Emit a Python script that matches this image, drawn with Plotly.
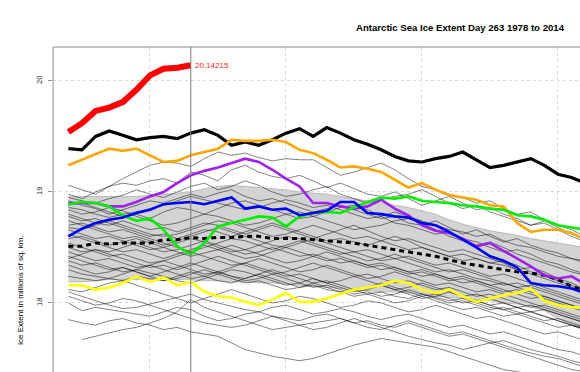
import plotly.graph_objects as go

days = list(range(254, 293))

# highlighted years
red_2014 = [19.54, 19.62, 19.73, 19.76, 19.81, 19.92, 20.05, 20.11, 20.12, 20.14215]
black_thick = [19.39, 19.38, 19.50, 19.55, 19.51, 19.47, 19.49, 19.50, 19.48, 19.53, 19.56, 19.51, 19.42, 19.45, 19.42, 19.47, 19.53,
               19.57, 19.50, 19.58, 19.53, 19.47, 19.43, 19.38, 19.32, 19.28, 19.27, 19.30, 19.32, 19.36, 19.29, 19.22, 19.24, 19.27, 19.30, 19.24, 19.16, 19.13, 19.08]
orange = [19.24, 19.29, 19.34, 19.39, 19.37, 19.39, 19.33, 19.27, 19.28, 19.33, 19.36, 19.39, 19.47, 19.46, 19.46, 19.47, 19.45, 19.38, 19.35, 19.29,
          19.22, 19.23, 19.21, 19.18, 19.11, 19.04, 19.08, 19.02, 18.97, 18.95, 18.93, 18.88, 18.87, 18.72, 18.64, 18.66, 18.66, 18.63, 18.57]
purple = [18.90, 18.90, 18.90, 18.87, 18.87, 18.91, 18.96, 19.00, 19.08, 19.15, 19.19, 19.22, 19.26, 19.30, 19.27, 19.20, 19.12, 19.05, 18.90, 18.90,
          18.87, 18.85, 18.87, 18.93, 18.85, 18.79, 18.70, 18.65, 18.63, 18.58, 18.51, 18.54, 18.47, 18.40, 18.33, 18.25, 18.22, 18.24, 18.17]
green = [18.89, 18.91, 18.90, 18.87, 18.79, 18.74, 18.76, 18.66, 18.51, 18.44, 18.54, 18.69, 18.72, 18.75, 18.78, 18.77, 18.69, 18.78, 18.81, 18.82,
         18.81, 18.86, 18.91, 18.95, 18.94, 18.96, 18.92, 18.91, 18.90, 18.88, 18.87, 18.85, 18.84, 18.79, 18.78, 18.75, 18.70, 18.68, 18.66]
blue = [18.60, 18.67, 18.72, 18.75, 18.77, 18.81, 18.84, 18.89, 18.90, 18.91, 18.89, 18.92, 18.95, 18.85, 18.87, 18.84, 18.85, 18.79, 18.81, 18.83,
        18.91, 18.91, 18.81, 18.80, 18.78, 18.77, 18.72, 18.70, 18.64, 18.57, 18.50, 18.42, 18.38, 18.32, 18.18, 18.16, 18.15, 18.13, 18.09]
yellow = [18.16, 18.16, 18.12, 18.14, 18.18, 18.24, 18.19, 18.23, 18.16, 18.19, 18.10, 18.06, 18.05, 18.01, 17.98, 18.03, 18.09, 18.01, 18.01, 18.04,
          18.08, 18.12, 18.14, 18.16, 18.20, 18.18, 18.12, 18.09, 18.12, 18.06, 18.01, 18.04, 18.07, 18.09, 18.13, 18.02, 17.98, 17.96, 17.96]

mean_line = [18.51, 18.51, 18.54, 18.53, 18.54, 18.54, 18.54, 18.57, 18.57, 18.59, 18.58, 18.59, 18.59, 18.60, 18.60, 18.58, 18.58, 18.58, 18.57, 18.56,
             18.55, 18.54, 18.52, 18.50, 18.48, 18.46, 18.44, 18.42, 18.39, 18.36, 18.34, 18.32, 18.30, 18.28, 18.27, 18.25, 18.21, 18.15, 18.11]
band_upper = [18.96, 18.96, 18.96, 18.96, 18.96, 18.96, 18.97, 18.98, 18.99, 19.00, 19.03, 19.05, 19.06, 19.05, 19.04, 19.03, 19.02, 19.00, 18.99, 18.98,
              18.96, 18.94, 18.92, 18.90, 18.88, 18.86, 18.83, 18.80, 18.75, 18.71, 18.68, 18.65, 18.63, 18.61, 18.58, 18.56, 18.54, 18.52, 18.50]
band_lower = [18.19, 18.19, 18.20, 18.21, 18.21, 18.21, 18.21, 18.22, 18.21, 18.21, 18.20, 18.20, 18.19, 18.19, 18.18, 18.18, 18.17, 18.16, 18.15, 18.14,
              18.13, 18.12, 18.11, 18.10, 18.10, 18.09, 18.08, 18.06, 18.05, 18.04, 18.03, 18.02, 18.00, 17.99, 17.97, 17.93, 17.86, 17.80, 17.75]

thin_years = [
    [19.06, 19.02, 18.98, 19.05, 19.12, 19.18, 19.24, 19.27, 19.26, 19.23, 19.30, 19.36, 19.33, 19.35, 19.31, 19.28, 19.30, 19.29, 19.29, 19.22, 19.15, 19.18, 19.22, 19.26, 19.20, 19.12, 19.05, 19.02, 18.98, 18.95, 18.90, 18.92, 18.85, 18.80, 18.82, 18.75, 18.70, 18.66, 18.60],
    [18.98, 18.94, 19.00, 19.05, 19.08, 19.06, 19.10, 19.12, 19.08, 19.18, 19.15, 19.10, 19.20, 19.24, 19.18, 19.14, 19.12, 19.15, 19.10, 19.04, 19.08, 19.03, 18.98, 18.96, 19.00, 18.94, 18.88, 18.92, 18.96, 18.90, 18.84, 18.86, 18.80, 18.76, 18.70, 18.74, 18.68, 18.62, 18.58],
    [18.95, 18.92, 18.90, 18.94, 18.97, 19.02, 18.98, 18.95, 19.00, 19.05, 19.08, 19.02, 19.05, 19.10, 19.06, 19.00, 18.96, 18.98, 19.02, 19.05, 18.98, 18.94, 18.90, 18.93, 18.96, 18.98, 19.02, 18.96, 18.90, 18.85, 18.88, 18.82, 18.78, 18.74, 18.70, 18.72, 18.66, 18.60, 18.55],
    [18.92, 18.88, 18.85, 18.80, 18.84, 18.88, 18.92, 18.90, 18.94, 18.98, 18.95, 18.99, 19.02, 18.96, 18.92, 18.94, 18.90, 18.86, 18.82, 18.85, 18.88, 18.84, 18.80, 18.76, 18.78, 18.72, 18.70, 18.74, 18.68, 18.62, 18.66, 18.60, 18.55, 18.58, 18.52, 18.48, 18.45, 18.40, 18.38],
    [18.88, 18.90, 18.86, 18.82, 18.78, 18.80, 18.76, 18.82, 18.86, 18.84, 18.80, 18.85, 18.90, 18.92, 18.88, 18.84, 18.80, 18.76, 18.78, 18.82, 18.86, 18.88, 18.84, 18.78, 18.72, 18.70, 18.66, 18.62, 18.64, 18.58, 18.55, 18.50, 18.46, 18.48, 18.44, 18.38, 18.35, 18.30, 18.26],
    [18.84, 18.80, 18.82, 18.86, 18.83, 18.78, 18.74, 18.70, 18.72, 18.76, 18.80, 18.78, 18.74, 18.70, 18.72, 18.76, 18.80, 18.82, 18.78, 18.74, 18.70, 18.66, 18.68, 18.70, 18.74, 18.76, 18.72, 18.66, 18.60, 18.56, 18.52, 18.55, 18.50, 18.44, 18.40, 18.36, 18.32, 18.28, 18.25],
    [18.80, 18.76, 18.72, 18.70, 18.74, 18.70, 18.66, 18.68, 18.64, 18.68, 18.72, 18.70, 18.66, 18.62, 18.66, 18.70, 18.66, 18.62, 18.58, 18.62, 18.66, 18.70, 18.65, 18.60, 18.56, 18.58, 18.54, 18.50, 18.46, 18.48, 18.44, 18.40, 18.36, 18.30, 18.32, 18.28, 18.22, 18.18, 18.12],
    [18.78, 18.74, 18.76, 18.72, 18.68, 18.64, 18.60, 18.62, 18.58, 18.62, 18.66, 18.64, 18.60, 18.64, 18.68, 18.72, 18.68, 18.64, 18.60, 18.56, 18.58, 18.55, 18.52, 18.56, 18.60, 18.56, 18.50, 18.46, 18.42, 18.44, 18.40, 18.36, 18.38, 18.34, 18.28, 18.24, 18.20, 18.16, 18.10],
    [18.74, 18.70, 18.66, 18.62, 18.58, 18.60, 18.56, 18.52, 18.56, 18.60, 18.64, 18.68, 18.64, 18.60, 18.56, 18.52, 18.50, 18.54, 18.58, 18.54, 18.50, 18.46, 18.48, 18.44, 18.40, 18.42, 18.38, 18.34, 18.36, 18.32, 18.28, 18.24, 18.26, 18.22, 18.18, 18.14, 18.10, 18.06, 18.02],
    [18.70, 18.72, 18.68, 18.64, 18.66, 18.62, 18.58, 18.54, 18.50, 18.46, 18.50, 18.54, 18.58, 18.56, 18.52, 18.48, 18.52, 18.56, 18.52, 18.48, 18.44, 18.46, 18.42, 18.38, 18.40, 18.36, 18.32, 18.28, 18.30, 18.26, 18.22, 18.20, 18.16, 18.18, 18.14, 18.10, 18.06, 18.02, 17.98],
    [18.66, 18.62, 18.58, 18.60, 18.56, 18.52, 18.48, 18.50, 18.54, 18.58, 18.55, 18.50, 18.46, 18.48, 18.52, 18.56, 18.60, 18.58, 18.54, 18.50, 18.46, 18.42, 18.38, 18.40, 18.44, 18.40, 18.36, 18.32, 18.28, 18.30, 18.26, 18.22, 18.18, 18.14, 18.16, 18.12, 18.08, 18.04, 18.00],
    [18.62, 18.58, 18.54, 18.50, 18.46, 18.48, 18.44, 18.40, 18.44, 18.48, 18.52, 18.48, 18.44, 18.40, 18.42, 18.46, 18.50, 18.46, 18.42, 18.38, 18.40, 18.36, 18.32, 18.34, 18.30, 18.26, 18.28, 18.24, 18.20, 18.22, 18.18, 18.14, 18.10, 18.12, 18.08, 18.04, 18.00, 17.96, 17.92],
    [18.58, 18.60, 18.56, 18.52, 18.55, 18.58, 18.54, 18.50, 18.46, 18.42, 18.45, 18.48, 18.52, 18.48, 18.44, 18.40, 18.36, 18.38, 18.42, 18.46, 18.42, 18.38, 18.34, 18.30, 18.32, 18.28, 18.24, 18.26, 18.22, 18.18, 18.20, 18.16, 18.12, 18.08, 18.04, 18.06, 18.02, 17.98, 17.94],
    [18.54, 18.50, 18.46, 18.42, 18.44, 18.40, 18.36, 18.38, 18.42, 18.46, 18.42, 18.38, 18.34, 18.36, 18.40, 18.36, 18.32, 18.28, 18.30, 18.34, 18.30, 18.26, 18.22, 18.24, 18.28, 18.24, 18.20, 18.16, 18.18, 18.14, 18.10, 18.12, 18.08, 18.04, 18.00, 17.96, 17.92, 17.88, 17.84],
    [18.50, 18.46, 18.48, 18.44, 18.40, 18.36, 18.32, 18.34, 18.30, 18.34, 18.38, 18.42, 18.38, 18.34, 18.30, 18.26, 18.28, 18.32, 18.36, 18.32, 18.28, 18.24, 18.26, 18.22, 18.18, 18.20, 18.16, 18.12, 18.14, 18.10, 18.06, 18.08, 18.04, 18.00, 17.96, 17.98, 17.94, 17.90, 17.86],
    [18.46, 18.42, 18.38, 18.40, 18.36, 18.32, 18.34, 18.38, 18.34, 18.30, 18.26, 18.28, 18.32, 18.36, 18.32, 18.28, 18.24, 18.26, 18.22, 18.18, 18.20, 18.24, 18.20, 18.16, 18.12, 18.14, 18.18, 18.14, 18.10, 18.06, 18.08, 18.04, 18.00, 17.96, 17.98, 17.94, 17.90, 17.86, 17.82],
    [18.42, 18.38, 18.34, 18.30, 18.32, 18.28, 18.24, 18.28, 18.32, 18.36, 18.32, 18.28, 18.24, 18.22, 18.26, 18.30, 18.26, 18.22, 18.18, 18.20, 18.16, 18.12, 18.14, 18.18, 18.14, 18.10, 18.06, 18.08, 18.04, 18.00, 18.02, 17.98, 17.94, 17.90, 17.92, 17.88, 17.84, 17.80, 17.76],
    [18.38, 18.34, 18.36, 18.32, 18.28, 18.30, 18.34, 18.30, 18.26, 18.22, 18.24, 18.28, 18.24, 18.20, 18.22, 18.26, 18.22, 18.18, 18.14, 18.16, 18.12, 18.08, 18.10, 18.06, 18.08, 18.12, 18.08, 18.04, 18.00, 18.02, 17.98, 17.94, 17.96, 17.92, 17.88, 17.84, 17.86, 17.82, 17.78],
    [18.34, 18.30, 18.26, 18.28, 18.32, 18.28, 18.24, 18.20, 18.22, 18.26, 18.30, 18.26, 18.22, 18.18, 18.20, 18.16, 18.12, 18.14, 18.18, 18.14, 18.10, 18.06, 18.08, 18.04, 18.00, 18.02, 18.06, 18.02, 17.98, 17.94, 17.96, 17.92, 17.88, 17.90, 17.86, 17.82, 17.78, 17.80, 17.76],
    [18.30, 18.26, 18.24, 18.22, 18.26, 18.30, 18.27, 18.24, 18.20, 18.18, 18.22, 18.26, 18.30, 18.28, 18.24, 18.20, 18.16, 18.18, 18.22, 18.18, 18.14, 18.10, 18.12, 18.16, 18.12, 18.08, 18.04, 18.06, 18.10, 18.06, 18.02, 17.98, 18.00, 17.96, 17.92, 17.94, 17.90, 17.86, 17.82],
    [18.24, 18.22, 18.20, 18.22, 18.20, 18.24, 18.22, 18.20, 18.24, 18.28, 18.24, 18.20, 18.18, 18.22, 18.26, 18.22, 18.18, 18.14, 18.16, 18.12, 18.10, 18.12, 18.08, 18.10, 18.06, 18.04, 18.08, 18.05, 18.02, 18.04, 18.00, 17.96, 17.94, 17.96, 17.92, 17.88, 17.84, 17.80, 17.78],
    [18.12, 18.10, 18.14, 18.18, 18.20, 18.16, 18.12, 18.08, 18.04, 18.00, 18.04, 18.08, 18.12, 18.08, 18.04, 18.00, 18.02, 18.06, 18.04, 18.00, 17.96, 17.98, 18.02, 18.00, 17.96, 17.92, 17.94, 17.98, 17.94, 17.90, 17.86, 17.88, 17.84, 17.80, 17.76, 17.72, 17.74, 17.70, 17.66],
    [18.00, 17.93, 17.96, 17.94, 17.92, 17.90, 17.88, 17.92, 17.96, 17.94, 17.88, 17.84, 17.86, 17.90, 17.92, 17.88, 17.86, 17.84, 17.88, 17.90, 17.86, 17.82, 17.84, 17.80, 17.78, 17.82, 17.78, 17.74, 17.70, 17.72, 17.68, 17.64, 17.66, 17.62, 17.58, 17.55, 17.52, 17.48, 17.45],
    [18.06, 18.02, 17.98, 18.00, 18.04, 18.02, 17.98, 17.94, 17.90, 17.86, 17.82, 17.80, 17.78, 17.80, 17.84, 17.88, 17.84, 17.80, 17.76, 17.78, 17.82, 17.86, 17.82, 17.78, 17.74, 17.70, 17.67, 17.64, 17.62, 17.58, 17.61, 17.64, 17.60, 17.56, 17.52, 17.48, 17.44, 17.40, 17.38],
    [None, 17.67, 17.70, 17.73, 17.76, 17.78, 17.82, 17.86, 17.92, 18.03, 17.96, 17.92, 17.88, 17.84, 17.80, 17.76, 17.78, 17.80, 17.82, 17.84, 17.86, 17.82, 17.78, 17.76, 17.80, 17.84, 17.80, 17.76, 17.72, 17.74, 17.70, 17.66, 17.62, 17.58, 17.55, 17.52, 17.50, 17.46, 17.42],
    [17.85, 17.82, 17.80, 17.84, 17.86, 17.82, 17.80, 17.76, 17.78, 17.74, 17.72, 17.70, 17.64, 17.58, 17.55, 17.52, 17.50, 17.48, 17.50, 17.54, 17.58, 17.62, 17.65, 17.68, 17.66, 17.64, 17.62, 17.60, 17.56, 17.52, 17.48, 17.44, 17.40, 17.38, 17.36, 17.34, 17.32, 17.30, 17.28],
    [18.10, 18.06, 18.02, 17.98, 17.95, 17.96, 17.99, 18.02, 18.05, 18.08, 18.03, 18.00, 17.97, 17.94, 17.92, 17.96, 17.98, 17.94, 17.90, 17.92, 17.95, 17.92, 17.88, 17.85, 17.88, 17.90, 17.86, 17.82, 17.78, 17.80, 17.76, 17.72, 17.74, 17.70, 17.66, 17.62, 17.58, 17.56, 17.52],
    [18.86, 18.84, 18.80, 18.77, 18.80, 18.82, 18.85, 18.88, 18.92, 18.96, 18.93, 18.90, 18.87, 18.84, 18.86, 18.90, 18.93, 18.90, 18.86, 18.88, 18.84, 18.80, 18.76, 18.78, 18.82, 18.78, 18.74, 18.70, 18.66, 18.64, 18.60, 18.62, 18.56, 18.52, 18.50, 18.46, 18.42, 18.40, 18.36],
    [18.68, 18.66, 18.70, 18.74, 18.70, 18.66, 18.62, 18.60, 18.62, 18.66, 18.70, 18.74, 18.72, 18.68, 18.64, 18.60, 18.62, 18.66, 18.70, 18.66, 18.62, 18.58, 18.60, 18.56, 18.52, 18.48, 18.50, 18.46, 18.42, 18.38, 18.40, 18.36, 18.34, 18.30, 18.26, 18.22, 18.18, 18.14, 18.10],
    [18.40, 18.44, 18.48, 18.46, 18.50, 18.54, 18.50, 18.46, 18.48, 18.52, 18.56, 18.52, 18.48, 18.44, 18.46, 18.50, 18.46, 18.42, 18.44, 18.40, 18.36, 18.38, 18.34, 18.36, 18.32, 18.28, 18.30, 18.26, 18.22, 18.24, 18.20, 18.16, 18.18, 18.14, 18.10, 18.06, 18.02, 17.98, 17.94],
]

highlight = [
    (black_thick, "black", 3.2),
    (orange, "#FFA500", 2.6),
    (purple, "#A020F0", 2.6),
    (green, "#00EE00", 2.6),
    (blue, "#0000FF", 2.6),
    (yellow, "#FFFF00", 2.6),
]

title_text = "Antarctic Sea Ice Extent Day 263 1978 to 2014"
y_title = "Ice Extent in millions of sq. km."
y_ticks = [18, 19, 20]
current_day = 263
label_text = "20.14215"

fig = go.Figure()

# band
fig.add_trace(go.Scatter(
    x=days + days[::-1], y=band_upper + band_lower[::-1],
    fill="toself", fillcolor="#D3D3D3", mode="lines",
    line=dict(color="#9a9a9a", width=0.6), hoverinfo="skip"))

for ys in thin_years:
    fig.add_trace(go.Scatter(x=days, y=ys, mode="lines",
                             line=dict(color="rgba(0,0,0,0.65)", width=0.75)))

fig.add_trace(go.Scatter(x=days, y=mean_line, mode="lines",
                         line=dict(color="black", width=3, dash="5px,4px")))

for ys, col, w in highlight:
    fig.add_trace(go.Scatter(x=days, y=ys, mode="lines", line=dict(color=col, width=w)))

fig.add_trace(go.Scatter(x=days[:len(red_2014)], y=red_2014, mode="lines",
                         line=dict(color="#FF0000", width=6)))

fig.add_annotation(x=current_day, y=red_2014[-1], text=label_text, showarrow=False,
                   xanchor="left", yanchor="middle", xshift=2,
                   font=dict(family="Liberation Sans, Arial", size=8, color="#FF2020"))

fig.add_annotation(xref="paper", yref="paper", x=0.774, y=1.0585, text="<b>" + title_text + "</b>",
                   showarrow=False, xanchor="center", yanchor="middle",
                   font=dict(family="Liberation Sans, Arial", size=9.6, color="black"))

fig.add_annotation(xref="paper", yref="paper", x=-0.0626, y=0.252, text=y_title, textangle=-90,
                   showarrow=False, xanchor="center", yanchor="middle",
                   font=dict(family="Liberation Sans, Arial", size=8, color="black"))

# vertical marker line for current day
fig.add_shape(type="line", xref="x", yref="paper", x0=current_day, x1=current_day, y0=0, y1=1,
              line=dict(color="#7a7a7a", width=1), layer="above")
# box (top and left edges)
fig.add_shape(type="line", xref="paper", yref="paper", x0=0, x1=1, y0=1, y1=1,
              line=dict(color="#8a8a8a", width=1), layer="above")
fig.add_shape(type="line", xref="paper", yref="paper", x0=0, x1=0, y0=0, y1=1,
              line=dict(color="#8a8a8a", width=1), layer="above")

fig.update_layout(
    width=580, height=372,
    margin=dict(l=53, r=0, t=47, b=0),
    paper_bgcolor="white", plot_bgcolor="white",
    showlegend=False,
    xaxis=dict(range=[252.87, 291.62], showticklabels=False, ticks="",
               showgrid=True, gridcolor="#d8d8d8", griddash="dot", gridwidth=1,
               tick0=260, dtick=10, zeroline=False, showline=False),
    yaxis=dict(range=[17.378, 20.306], tickvals=y_ticks, ticktext=[str(v) for v in y_ticks],
               tickangle=-90, ticks="outside", ticklen=4, tickcolor="#8a8a8a",
               ticklabelstandoff=3,
               tickfont=dict(family="Liberation Sans, Arial", size=7.5, color="#222"),
               showgrid=True, gridcolor="#d8d8d8", griddash="dot", gridwidth=1,
               zeroline=False, showline=False),
)

fig.write_html("out.html", config={"displayModeBar": False},
               post_script="document.body.style.margin='0';document.body.style.overflow='hidden';")
